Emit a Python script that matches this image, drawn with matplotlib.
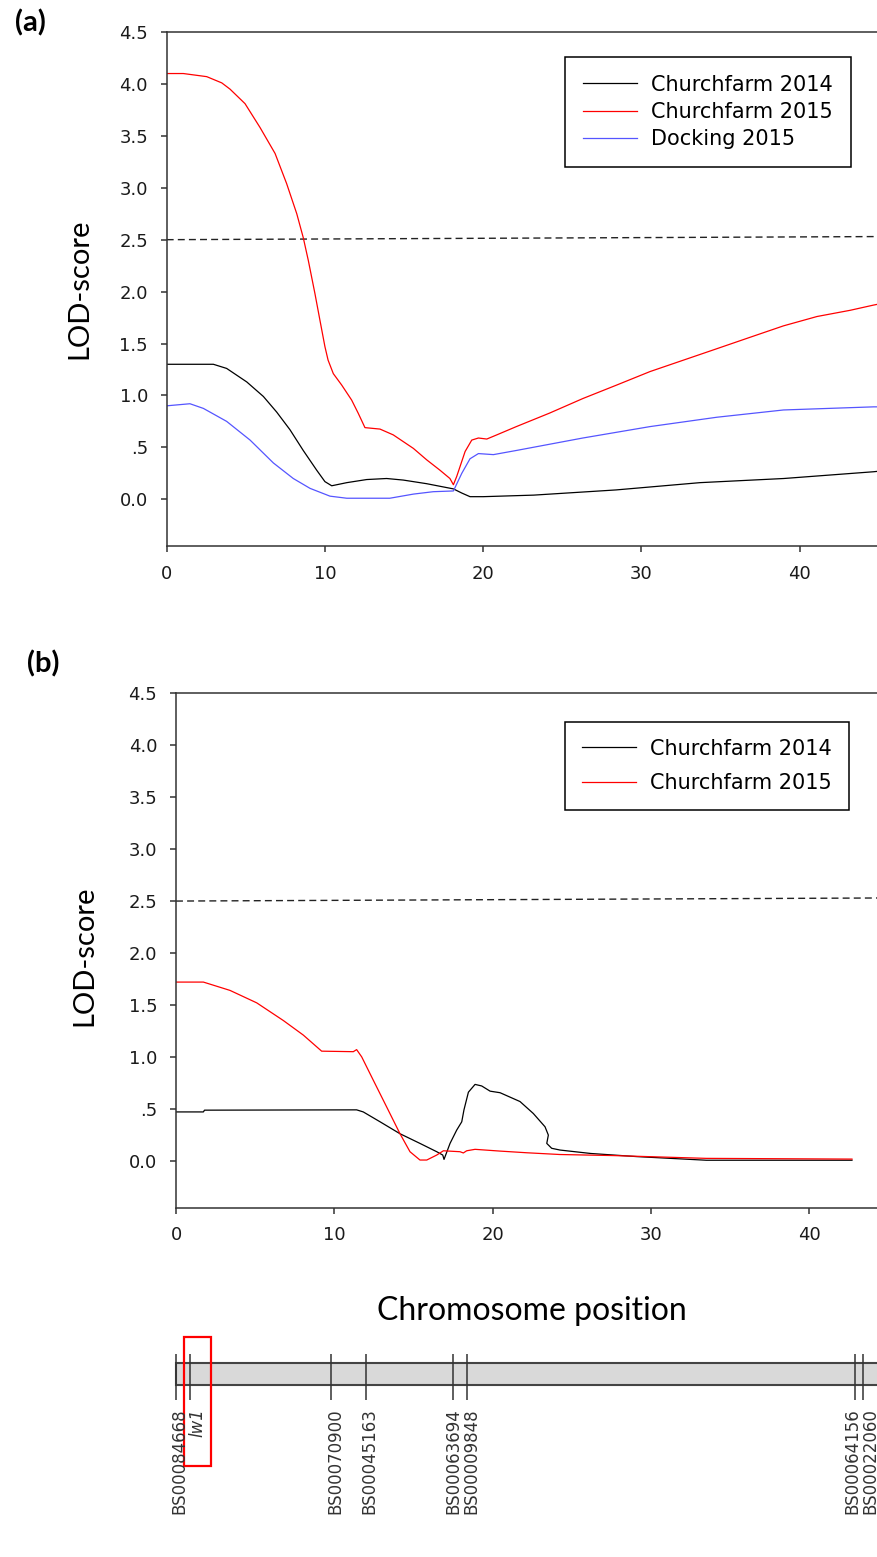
import matplotlib
matplotlib.use("Agg")
import matplotlib.pyplot as plt
from matplotlib.patches import Rectangle

plt.rcParams["font.family"] = ["DejaVu Sans"]

# panel (a) - LOD profiles
cf14_a_x = [0, 2.95, 3.79, 5.06, 6.11, 6.95, 7.79, 8.63, 9.48, 10.0, 10.43, 11.38, 12.64, 13.9,
            14.95, 16.43, 18.12, 18.65, 19.17, 20.0, 23.2, 28.4, 33.7, 39.0, 44.67, 45]
cf14_a_y = [1.30, 1.30, 1.26, 1.13, 0.99, 0.84, 0.67, 0.47, 0.28, 0.17, 0.13, 0.16, 0.19, 0.20,
            0.185, 0.15, 0.10, 0.06, 0.025, 0.025, 0.04, 0.09, 0.16, 0.20, 0.265, 0.27]

cf15_a_x = [0, 1.05, 2.53, 3.48, 4.0, 4.95, 5.9, 6.85, 7.58, 8.22, 8.63, 8.95, 9.37, 9.69, 10.0,
            10.2, 10.53, 11.06, 11.69, 12.1, 12.53, 13.48, 14.32, 15.59, 16.43, 17.27, 17.9, 18.12,
            18.33, 18.86, 19.28, 19.7, 20.23, 20.86, 22.1, 24.2, 26.3, 28.44, 30.55, 32.66, 34.77,
            36.87, 38.98, 41.1, 43.2, 44.67, 45]
cf15_a_y = [4.10, 4.10, 4.07, 4.01, 3.95, 3.81, 3.58, 3.33, 3.04, 2.75, 2.52, 2.30, 1.98, 1.72, 1.47,
            1.34, 1.21, 1.10, 0.955, 0.83, 0.69, 0.676, 0.62, 0.49, 0.38, 0.28, 0.20, 0.14,
            0.22, 0.46, 0.57, 0.59, 0.58, 0.62, 0.70, 0.83, 0.97, 1.10, 1.23, 1.34, 1.45,
            1.56, 1.67, 1.76, 1.82, 1.87, 1.88]

dock_a_x = [0, 1.47, 2.32, 3.79, 5.27, 6.74, 8.0, 9.06, 10.32, 11.38, 14.1, 15.6, 16.85, 18.12,
            18.65, 19.17, 19.7, 20.65, 22.1, 26.3, 30.55, 34.77, 38.98, 44.67, 45]
dock_a_y = [0.90, 0.92, 0.875, 0.75, 0.57, 0.35, 0.20, 0.105, 0.03, 0.01, 0.01, 0.05, 0.073, 0.08,
            0.25, 0.39, 0.44, 0.43, 0.47, 0.59, 0.70, 0.79, 0.86, 0.89, 0.89]

# panel (b)
cf14_b_x = [0, 1.73, 1.8, 11.41, 11.83, 12.89, 14.15, 15.41, 16.47, 16.85, 16.93, 17.31, 17.73,
            18.05, 18.19, 18.47, 18.89, 19.31, 19.84, 20.47, 21.73, 22.57, 23.31, 23.52, 23.42,
            23.73, 24.26, 26.2, 29.1, 33.5, 42.7]
cf14_b_y = [0.47, 0.47, 0.487, 0.49, 0.47, 0.375, 0.26, 0.167, 0.087, 0.055, 0.013, 0.167, 0.295,
            0.375, 0.49, 0.66, 0.735, 0.72, 0.67, 0.655, 0.57, 0.455, 0.327, 0.247, 0.167,
            0.12, 0.103, 0.07, 0.04, 0.005, 0.005]

cf15_b_x = [0, 1.73, 3.41, 5.1, 6.78, 8.04, 9.2, 11.2, 11.41, 11.73, 12.46, 13.3, 14.15, 14.78,
            15.41, 15.84, 16.47, 16.89, 17.94, 18.15, 18.36, 18.89, 20.47, 22.15, 24.26, 27.6,
            33.5, 42.7]
cf15_b_y = [1.72, 1.72, 1.64, 1.52, 1.35, 1.21, 1.055, 1.05, 1.07, 1.00, 0.776, 0.52, 0.26, 0.087,
            0.007, 0.007, 0.055, 0.096, 0.087, 0.075, 0.096, 0.11, 0.093, 0.077, 0.06, 0.05,
            0.023, 0.016]

# LOD threshold line (drawn slightly tilted in the original)
thr_x = [0, 45]
thr_y = [2.5, 2.53]

y_ticks = [0.0, 0.5, 1.0, 1.5, 2.0, 2.5, 3.0, 3.5, 4.0, 4.5]
y_ticklabels = ["0.0", ".5", "1.0", "1.5", "2.0", "2.5", "3.0", "3.5", "4.0", "4.5"]
x_ticks = [0, 10, 20, 30, 40]

# genetic map
marker_pos = [0.0, 0.9, 9.8, 12.0, 17.5, 18.4, 42.9, 43.4]
marker_names = ["BS00084668", "lw1", "BS00070900", "BS00045163", "BS00063694",
                "BS00009848", "BS00064156", "BS00022060"]
# where the rotated names sit relative to their tick (cM), as spread in the map
label_shift = [0.2, 0.46, 0.24, 0.24, 0.0, 0.23, -0.17, 0.44]

W, H = 877, 1557
fig = plt.figure(figsize=(W / 100, H / 100), dpi=100)


def style_axes(ax):
    ax.set_xlim(0, 45)
    ax.set_ylim(-0.45, 4.5)
    ax.set_yticks(y_ticks)
    ax.set_yticklabels(y_ticklabels)
    ax.set_xticks(x_ticks)
    ax.spines["right"].set_visible(False)
    for s in ["left", "bottom", "top"]:
        ax.spines[s].set_color("#333333")
        ax.spines[s].set_linewidth(1.1)
    ax.tick_params(direction="out", length=4.5, width=1.1, color="#333333",
                   labelsize=13, labelcolor="#1a1a1a", pad=9)
    ax.plot(thr_x, thr_y, color="#222222", lw=1.0, ls=(0, (5, 3)))
    ax.set_ylabel("LOD-score", family="Lato", fontsize=21, color="black")


ax_a = fig.add_axes([166.7 / W, 1 - 546 / H, 712 / W, 514 / H])
style_axes(ax_a)
ax_a.plot(cf14_a_x, cf14_a_y, color="black", lw=0.9, label="Churchfarm 2014")
ax_a.plot(cf15_a_x, cf15_a_y, color="#ff0000", lw=0.9, label="Churchfarm 2015")
ax_a.plot(dock_a_x, dock_a_y, color="#5555ff", lw=0.9, label="Docking 2015")
ax_a.yaxis.set_label_coords(-0.104, 0.5)

ax_b = fig.add_axes([176 / W, 1 - 1207.5 / H, 712.4 / W, 514.2 / H])
style_axes(ax_b)
ax_b.plot(cf14_b_x, cf14_b_y, color="black", lw=0.9, label="Churchfarm 2014")
ax_b.plot(cf15_b_x, cf15_b_y, color="#ff0000", lw=0.9, label="Churchfarm 2015")
ax_b.yaxis.set_label_coords(-0.11, 0.49)

legend_kw = dict(loc="upper left", bbox_transform=fig.transFigure, borderaxespad=0,
                 fancybox=False, framealpha=1, edgecolor="black", fontsize=15,
                 handlelength=2.6, handletextpad=0.7)
leg_a = ax_a.legend(bbox_to_anchor=(565 / W, 1 - 57 / H), labelspacing=0.35,
                    borderpad=0.85, **legend_kw)
leg_b = ax_b.legend(bbox_to_anchor=(565 / W, 1 - 722 / H), labelspacing=0.7,
                    borderpad=0.8, **legend_kw)
for leg in (leg_a, leg_b):
    leg.get_frame().set_linewidth(1.1)

fig.text(30 / W, 1 - 23 / H, "(a)", family="Lato", weight="bold", fontsize=21,
         ha="center", va="center")
fig.text(43 / W, 1 - 664 / H, "(b)", family="Lato", weight="bold", fontsize=21,
         ha="center", va="center")
fig.text(532 / W, 1 - 1311 / H, "Chromosome position", family="Lato", fontsize=23,
         ha="center", va="center")

# chromosome map, same x scale as panel (b); y in pixels below the map top
ax_c = fig.add_axes([176 / W, 0, 712.4 / W, 227 / H])
ax_c.set_xlim(0, 45)
ax_c.set_ylim(227, 0)
ax_c.axis("off")
ax_c.add_patch(Rectangle((marker_pos[0], 33), 46, 22, facecolor="#d9d9d9",
                         edgecolor="#444444", lw=1.5, clip_on=False))
ax_c.vlines(marker_pos, 24, 70, color="#333333", lw=1.1, clip_on=False)
for pos, shift, name in zip(marker_pos, label_shift, marker_names):
    ax_c.text(pos + shift, 78, name, rotation=90, ha="center", va="top", fontsize=12,
              color="#333333", style="italic" if name == "lw1" else "normal",
              clip_on=False)
ax_c.add_patch(Rectangle((0.52, 6.7), 1.69, 129.3, fill=False, edgecolor="#ff0000",
                         lw=1.6, clip_on=False))

fig.savefig("out.png", dpi=100)
